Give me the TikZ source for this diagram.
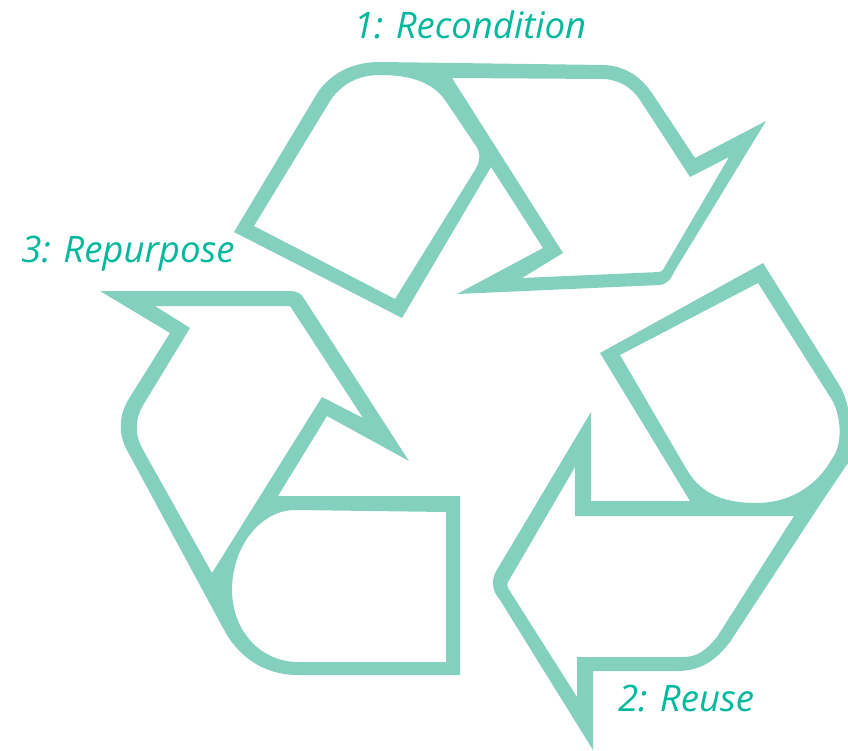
\documentclass[tikz,border=0pt]{standalone}
\usepackage{fontspec}
\setmainfont{Open Sans}
\definecolor{band}{HTML}{84D0BF}
\definecolor{lab}{HTML}{00B89C}
\tikzset{
  piece/.style={fill=band,even odd rule,draw=none},
  steplabel/.style={text=lab,inner sep=0pt,font=\fontsize{36.5}{40}\selectfont\itshape,anchor=center}
}
\begin{document}
\begin{tikzpicture}[x=1pt,y=-1pt]
\useasboundingbox (0,0) rectangle (848,750);
\begin{scope}
\clip (0,0) rectangle (848,750);
% top piece
\fill[piece]
 (234,232) -- (318,92) .. controls (333,71) and (355,62) .. (380,62) -- (604,65)
 .. controls (625,66) and (640,76) .. (652,93) -- (695,158) -- (766,121) -- (674,272)
 .. controls (670,281) and (666,284) .. (660,285) -- (457,294) -- (543,248) -- (491,167)
 -- (402,318) -- cycle
 (254,226) -- (332,98) .. controls (343,84) and (358,75) .. (380,75)
 .. controls (410,75) and (434,82) .. (447,103) -- (474,143)
 .. controls (481,152) and (481,160) .. (475,170) -- (395,299) -- cycle
 (452,78) -- (604,79) .. controls (620,80) and (632,88) .. (640,100) -- (690,177)
 -- (729,157) -- (664,268) .. controls (662,271) and (661,272) .. (659,272)
 -- (522,278) -- (563,253) -- cycle;
% right piece
\fill[piece]
 (763,263) -- (838,383) .. controls (850,400) and (855,440) .. (848,463) -- (823,500)
 -- (730,642) .. controls (714,663) and (698,671) .. (677,671) -- (593,671) -- (593,750)
 -- (500,600) .. controls (491,590) and (491,578) .. (498,568) -- (591,412) -- (591,501)
 -- (690,501) -- (600,353) -- cycle
 (758,283) -- (832,400) .. controls (842,418) and (842,445) .. (833,457)
 .. controls (815,490) and (785,503) .. (757,503) .. controls (725,503) and (702,495) .. (687,470)
 -- (620,355) -- cycle
 (794,516) -- (717,637) .. controls (706,650) and (698,657) .. (683,657) -- (577,657)
 -- (577,697) -- (508,588) .. controls (507,585) and (507,584) .. (508,582) -- (575,467)
 -- (575,516) -- cycle;
% left piece
\fill[piece]
 (100,291) -- (292,291) .. controls (298,292) and (301,294) .. (303,297) -- (409,461)
 -- (327,416) -- (278,496) -- (460,496) -- (460,675) -- (298,675)
 .. controls (262,675) and (237,655) .. (223,628) -- (128,452)
 .. controls (118,435) and (118,415) .. (130,397) -- (170,333) -- cycle
 (155,306) -- (290,306) -- (363,418) -- (322,397) -- (212,573) -- (142,448)
 .. controls (135,435) and (135,420) .. (142,407) -- (190,328) -- cycle
 (446,512) -- (295,510) .. controls (262,510) and (232,545) .. (232,590)
 .. controls (232,630) and (260,662) .. (298,662) -- (446,662) -- cycle;
\end{scope}
\node[steplabel] (l1) at (470,25) {1: Recondition};
\node[steplabel] (l2) at (686,699) {2: Reuse};
\node[steplabel] (l3) at (128,254) {3: Repurpose};
\end{tikzpicture}
\end{document}
